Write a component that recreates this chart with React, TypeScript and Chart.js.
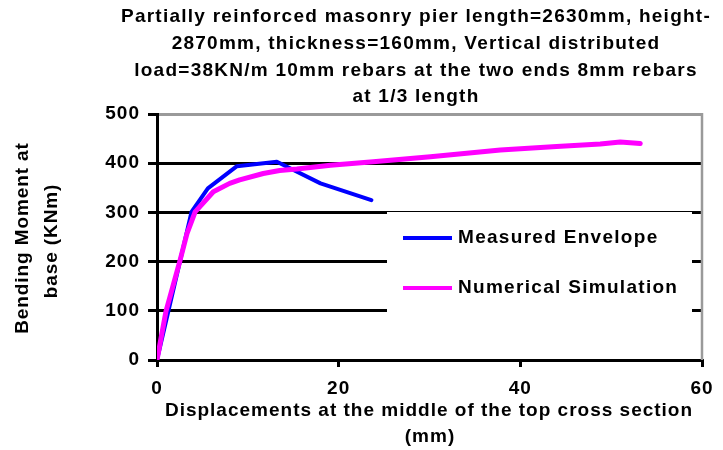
import React, { useEffect, useRef } from "react";
import { Chart, registerables } from "chart.js";

Chart.register(...registerables);

// ---------- data ----------
const TITLE_LINES = [
  "Partially reinforced masonry pier length=2630mm, height-",
  "2870mm, thickness=160mm, Vertical distributed",
  "load=38KN/m 10mm rebars at the two ends 8mm rebars",
  "at 1/3 length",
];
const X_TITLE_LINES = ["Displacements at the middle of the top cross section", "(mm)"];
const Y_TITLE_LINES = ["Bending Moment at", "base (KNm)"];
const SERIES_NAMES = ["Measured Envelope", "Numerical Simulation"];
const SERIES_COLORS = ["#0000FF", "#FF00FF"];

const measuredX = [0, 3.8, 5.6, 8.8, 13.2, 18.0, 23.6];
const measuredY = [0, 301, 349, 394, 403, 359, 325];

const simX = [0, 1.0, 2.5, 3.3, 4.2, 6.2, 8.0, 9.1, 11.7, 13.5, 15.4, 19.1, 23.8, 30.1, 37.8, 44, 48.8, 51, 53.2];
const simY = [0, 100, 200, 257, 301, 342, 359, 366, 379, 385, 388, 396, 403, 413, 427, 434, 439, 443, 440];

const X_MIN = 0, X_MAX = 60, X_STEP = 20;
const Y_MIN = 0, Y_MAX = 500, Y_STEP = 100;

// ---------- styling ----------
const FONT = '"Liberation Sans", Arial, sans-serif';
const FS = 19;
const LS = "1px";

const toPoints = (xs: number[], ys: number[]) => xs.map((x, i) => ({ x, y: ys[i] }));

const textPlugin = {
  id: "customTexts",
  beforeDraw(chart: any) {
    chart.ctx.letterSpacing = LS;
  },
  afterDraw(chart: any) {
    const ctx = chart.ctx as CanvasRenderingContext2D;
    const a = chart.chartArea;
    ctx.save();
    // right border of plot area
    ctx.strokeStyle = "#9a9a9a";
    ctx.lineWidth = 2.5;
    ctx.beginPath();
    ctx.moveTo(a.right, a.top - 1);
    ctx.lineTo(a.right, a.bottom);
    ctx.stroke();

    ctx.fillStyle = "#000";
    ctx.font = `bold ${FS}px ${FONT}`;
    (ctx as any).letterSpacing = "1.25px";
    ctx.textAlign = "center";
    ctx.textBaseline = "middle";
    // chart title
    TITLE_LINES.forEach((t, i) => ctx.fillText(t, 416, 17 + i * 26.7));
    // x title
    (ctx as any).letterSpacing = "1px";
    ctx.fillText(X_TITLE_LINES[0], 429, 411);
    ctx.fillText(X_TITLE_LINES[1], 430, 437);
    // y title
    (ctx as any).letterSpacing = "0.9px";
    ctx.save();
    ctx.translate(23, 238);
    ctx.rotate(-Math.PI / 2);
    ctx.fillText(Y_TITLE_LINES[0], 0, 0);
    ctx.restore();
    ctx.save();
    ctx.translate(52, 241);
    ctx.rotate(-Math.PI / 2);
    ctx.fillText(Y_TITLE_LINES[1], 0, 0);
    ctx.restore();

    // legend box
    const bx = a.left + 230, by = a.top + 98;
    ctx.fillStyle = "#fff";
    ctx.fillRect(bx, by, 305, 101);
    (ctx as any).letterSpacing = "1.3px";
    ctx.textAlign = "left";
    SERIES_NAMES.forEach((name, i) => {
      const y = a.top + 124 + i * 50;
      ctx.strokeStyle = SERIES_COLORS[i];
      ctx.lineWidth = 4;
      ctx.beginPath();
      ctx.moveTo(a.left + 246, y);
      ctx.lineTo(a.left + 295, y);
      ctx.stroke();
      ctx.fillStyle = "#000";
      ctx.fillText(name, a.left + 301, y);
    });
    ctx.restore();
  },
};

export default function App() {
  const ref = useRef<HTMLCanvasElement>(null);
  useEffect(() => {
    const chart = new Chart(ref.current as HTMLCanvasElement, {
      type: "scatter",
      data: {
        datasets: [
          {
            label: SERIES_NAMES[0],
            data: toPoints(measuredX, measuredY),
            showLine: true,
            borderColor: SERIES_COLORS[0],
            backgroundColor: SERIES_COLORS[0],
            borderWidth: 4,
            pointRadius: 0,
            borderJoinStyle: "round",
            borderCapStyle: "round",
            order: 2,
          },
          {
            label: SERIES_NAMES[1],
            data: toPoints(simX, simY),
            showLine: true,
            borderColor: SERIES_COLORS[1],
            backgroundColor: SERIES_COLORS[1],
            borderWidth: 5,
            pointRadius: 0,
            borderJoinStyle: "round",
            borderCapStyle: "round",
            order: 1,
          },
        ],
      },
      options: {
        animation: false,
        responsive: true,
        maintainAspectRatio: false,
        devicePixelRatio: 1,
        events: [],
        layout: { padding: { top: 114, right: 21, left: 0, bottom: 0 } },
        plugins: { legend: { display: false }, tooltip: { enabled: false }, title: { display: false } },
        scales: {
          x: {
            type: "linear",
            min: X_MIN,
            max: X_MAX,
            afterFit: (s: any) => { s.height = 90; },
            ticks: {
              stepSize: X_STEP,
              color: "#000",
              padding: 10,
              font: { family: FONT, size: FS, weight: "bold" },
            },
            grid: { drawOnChartArea: false, drawTicks: true, tickLength: 7, tickColor: "#000", lineWidth: 3 },
            border: { color: "#000", width: 3 },
          },
          y: {
            type: "linear",
            min: Y_MIN,
            max: Y_MAX,
            afterFit: (s: any) => { s.width = 157; },
            ticks: {
              stepSize: Y_STEP,
              color: "#000",
              padding: 8,
              font: { family: FONT, size: FS, weight: "bold" },
            },
            grid: {
              color: (c: any) => (c.tick && c.tick.value === Y_MAX ? "#9a9a9a" : "#000"),
              tickColor: "#000",
              lineWidth: 3,
              tickLength: 9,
            },
            border: { color: "#000", width: 3 },
          },
        },
      },
      plugins: [textPlugin],
    } as any);
    return () => chart.destroy();
  }, []);
  return (
    <div style={{ position: "fixed", left: 0, top: 0, width: 723, height: 450 }}>
      <canvas ref={ref} />
    </div>
  );
}
